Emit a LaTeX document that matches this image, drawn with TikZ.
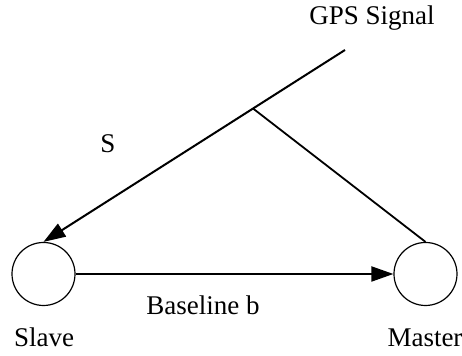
\documentclass[tikz,border=0pt]{standalone}
\usepackage{fontspec}
\setmainfont{Liberation Serif}
\usetikzlibrary{arrows.meta,positioning,calc}
\begin{document}
\begin{tikzpicture}[x=0.5pt,y=-0.5pt]
\tikzset{st/.style={circle,draw,line width=0.6pt,minimum size=31.5pt,inner sep=0pt},lb/.style={anchor=base,inner sep=0pt,font=\fontsize{13.5}{16}\selectfont},a/.style={-{Triangle[length=11pt,width=7.5pt]},line width=1pt},l/.style={line width=0.9pt}}
\useasboundingbox (0,0) rectangle (462,356);
\node[st] (slave) at (43.5,274) {};
\node[st] (master) at (425.5,274) {};
\coordinate (src) at (345,50);
\coordinate (foot) at ($(src)!0.305!(slave.north)$);
\node[lb] (gps) at (372,25) {GPS Signal};
\node[lb] (s) at (108,153) {S};
\node[lb] (base) at (203,315) {Baseline b};
\node[lb] (sl) at (44,347) {Slave};
\node[lb] (ma) at (425,347) {Master};
\draw[a](src)--(slave.north);\draw[l](foot)--(master.north);\draw[a](slave)--(master);
\end{tikzpicture}
\end{document}
